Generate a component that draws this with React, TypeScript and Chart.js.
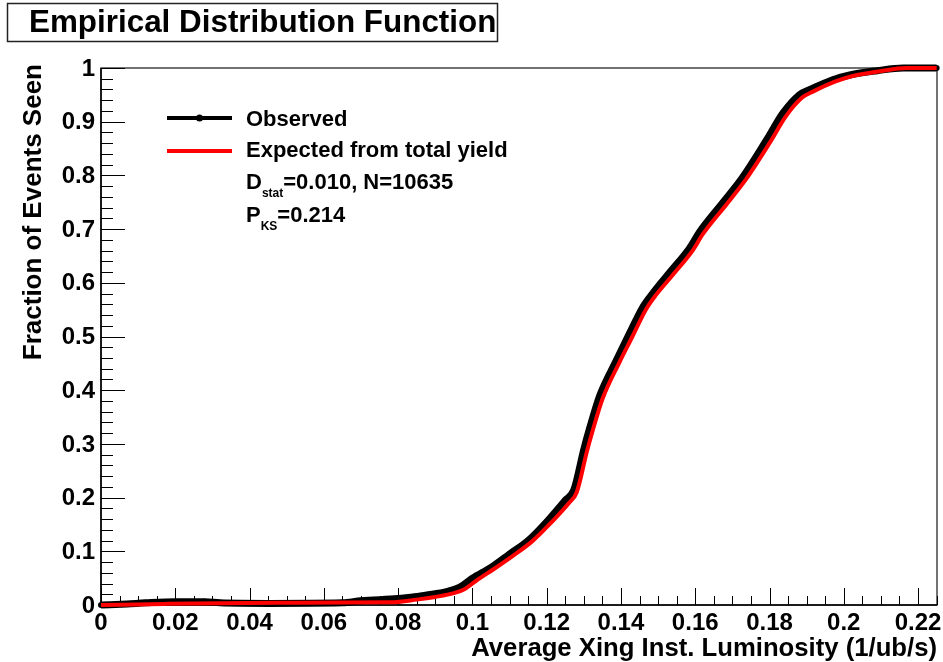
import { useEffect, useRef } from 'react';
import { Chart, registerables } from 'chart.js';

Chart.register(...registerables);

// ---------- data ----------
const obsX = [0, 0.007, 0.012, 0.02, 0.028, 0.032, 0.045, 0.065, 0.07, 0.08, 0.085, 0.09, 0.094, 0.097, 0.1, 0.105, 0.11, 0.115, 0.12, 0.125, 0.1273, 0.13, 0.1316, 0.1343, 0.1388, 0.1423, 0.1459, 0.1486, 0.1532, 0.1585, 0.1612, 0.1675, 0.1728, 0.1792, 0.1836, 0.188, 0.1909, 0.197, 0.2016, 0.209, 0.216, 0.225];
const obsY = [0, 0.002, 0.004, 0.006, 0.006, 0.004, 0.003, 0.004, 0.008, 0.012, 0.016, 0.021, 0.027, 0.035, 0.05, 0.07, 0.095, 0.12, 0.155, 0.195, 0.214, 0.29, 0.33, 0.39, 0.456, 0.506, 0.555, 0.581, 0.62, 0.665, 0.695, 0.75, 0.797, 0.866, 0.916, 0.95, 0.96, 0.978, 0.987, 0.995, 1.0, 1.0];

const expX = [0, 0.017, 0.047, 0.078, 0.085, 0.09, 0.095, 0.098, 0.101, 0.106, 0.111, 0.116, 0.121, 0.126, 0.1281, 0.1308, 0.1324, 0.1351, 0.1396, 0.1431, 0.1467, 0.1494, 0.154, 0.1593, 0.162, 0.1683, 0.1736, 0.18, 0.1844, 0.1888, 0.1917, 0.1978, 0.2024, 0.2098, 0.2168, 0.225];
const expY = [0, 0.002, 0.004, 0.005, 0.01, 0.015, 0.022, 0.03, 0.045, 0.068, 0.092, 0.118, 0.152, 0.19, 0.21, 0.285, 0.325, 0.385, 0.452, 0.5, 0.55, 0.577, 0.615, 0.66, 0.69, 0.745, 0.792, 0.86, 0.91, 0.945, 0.956, 0.975, 0.985, 0.994, 1.0, 1.0];

const xTickValues = [0, 0.02, 0.04, 0.06, 0.08, 0.1, 0.12, 0.14, 0.16, 0.18, 0.2, 0.22];
const xTickLabels = ['0', '0.02', '0.04', '0.06', '0.08', '0.1', '0.12', '0.14', '0.16', '0.18', '0.2', '0.22'];
const yTickValues = [0, 0.1, 0.2, 0.3, 0.4, 0.5, 0.6, 0.7, 0.8, 0.9, 1];
const yTickLabels = ['0', '0.1', '0.2', '0.3', '0.4', '0.5', '0.6', '0.7', '0.8', '0.9', '1'];

const titleText = 'Empirical Distribution Function';
const xTitle = 'Average Xing Inst. Luminosity (1/ub/s)';
const yTitle = 'Fraction of Events Seen';
const legendLabels = ['Observed', 'Expected from total yield'];
const statD = '=0.010, N=10635';
const statP = '=0.214';

const X_MAX = 0.2251;
const FONT = '"Liberation Sans", Arial, Helvetica, sans-serif';

const rootPlugin = {
  id: 'rootStyle',
  beforeDatasetsDraw(chart: any) {
    const { ctx, chartArea: a, scales } = chart;
    const x = scales.x;
    const y = scales.y;
    ctx.save();
    // frame
    ctx.strokeStyle = '#444';
    ctx.lineWidth = 1.5;
    ctx.strokeRect(a.left, a.top, a.right - a.left, a.bottom - a.top);
    // axes lines
    ctx.strokeStyle = '#000';
    ctx.lineWidth = 1.5;
    ctx.beginPath();
    ctx.moveTo(a.left, a.top);
    ctx.lineTo(a.left, a.bottom);
    ctx.lineTo(a.right, a.bottom);
    ctx.stroke();
    // ticks
    ctx.lineWidth = 1;
    ctx.beginPath();
    for (let i = 0; i <= 45; i++) {
      const v = i * 0.005;
      if (v > X_MAX) break;
      const px = Math.round(x.getPixelForValue(v)) + 0.5;
      const len = i % 4 === 0 ? 17 : 9;
      ctx.moveTo(px, a.bottom);
      ctx.lineTo(px, a.bottom - len);
    }
    for (let i = 0; i <= 50; i++) {
      const v = i * 0.02;
      const py = Math.round(y.getPixelForValue(v)) + 0.5;
      const len = i % 5 === 0 ? 24 : 12;
      ctx.moveTo(a.left, py);
      ctx.lineTo(a.left + len, py);
    }
    ctx.stroke();

    // tick labels
    ctx.fillStyle = '#000';
    ctx.font = `bold 24px ${FONT}`;
    ctx.textAlign = 'center';
    ctx.textBaseline = 'middle';
    xTickValues.forEach((v, i) => {
      ctx.fillText(xTickLabels[i], x.getPixelForValue(v), 623);
    });
    ctx.textAlign = 'right';
    yTickValues.forEach((v, i) => {
      ctx.fillText(yTickLabels[i], a.left - 6, y.getPixelForValue(v) + 1);
    });

    // axis titles
    ctx.font = `bold 25.7px ${FONT}`;
    ctx.textAlign = 'right';
    ctx.fillText(xTitle, a.right, 649);
    ctx.save();
    ctx.translate(34, a.top - 4);
    ctx.rotate(-Math.PI / 2);
    ctx.textAlign = 'right';
    ctx.font = `bold 26px ${FONT}`;
    ctx.fillText(yTitle, 0, 0);
    ctx.restore();
    ctx.restore();
  },
  afterDraw(chart: any) {
    const { ctx } = chart;
    ctx.save();
    // title box
    ctx.strokeStyle = '#222';
    ctx.lineWidth = 1.5;
    ctx.fillStyle = '#fff';
    ctx.fillRect(7, 3, 491, 39);
    ctx.strokeRect(7.5, 3.5, 490, 38);
    ctx.fillStyle = '#000';
    ctx.font = `bold 31.4px ${FONT}`;
    ctx.textAlign = 'left';
    ctx.textBaseline = 'middle';
    ctx.fillText(titleText, 29, 23);

    // legend
    ctx.lineCap = 'butt';
    ctx.strokeStyle = '#000';
    ctx.lineWidth = 4;
    ctx.beginPath();
    ctx.moveTo(167, 118);
    ctx.lineTo(232, 118);
    ctx.stroke();
    ctx.fillStyle = '#000';
    ctx.beginPath();
    ctx.arc(199.5, 118, 3.5, 0, Math.PI * 2);
    ctx.fill();
    ctx.strokeStyle = '#ff0000';
    ctx.beginPath();
    ctx.moveTo(167, 151);
    ctx.lineTo(232, 151);
    ctx.stroke();

    ctx.fillStyle = '#000';
    ctx.font = `bold 22px ${FONT}`;
    ctx.fillText(legendLabels[0], 246, 120);
    ctx.fillText(legendLabels[1], 246, 151);

    // stats lines
    ctx.fillText('D', 246, 183);
    let w = ctx.measureText('D').width;
    ctx.font = `bold 12px ${FONT}`;
    ctx.fillText('stat', 246 + w, 194);
    const w2 = ctx.measureText('stat').width;
    ctx.font = `bold 22px ${FONT}`;
    ctx.fillText(statD, 246 + w + w2, 183);

    ctx.fillText('P', 246, 216);
    w = ctx.measureText('P').width;
    ctx.font = `bold 12px ${FONT}`;
    ctx.fillText('KS', 246 + w, 227);
    const w3 = ctx.measureText('KS').width;
    ctx.font = `bold 22px ${FONT}`;
    ctx.fillText(statP, 246 + w + w3, 216);
    ctx.restore();
  },
};

export default function App() {
  const canvasRef = useRef<HTMLCanvasElement | null>(null);

  useEffect(() => {
    if (!canvasRef.current) return;
    const observed = obsX.map((v, i) => ({ x: v, y: obsY[i] }));
    const expected = expX.map((v, i) => ({ x: v, y: expY[i] }));
    const chart = new Chart(canvasRef.current, {
      type: 'line',
      data: {
        datasets: [
          {
            label: legendLabels[1],
            data: expected,
            borderColor: '#ff0000',
            backgroundColor: '#ff0000',
            borderWidth: 4,
            pointRadius: 0,
            cubicInterpolationMode: 'monotone',
            clip: 6,
          },
          {
            label: legendLabels[0],
            data: observed,
            borderColor: '#000',
            backgroundColor: '#000',
            borderWidth: 7,
            pointRadius: 3,
            pointBorderWidth: 0,
            cubicInterpolationMode: 'monotone',
            clip: 6,
          },
        ],
      },
      options: {
        animation: false,
        responsive: false,
        devicePixelRatio: 1,
        layout: { padding: { left: 101, right: 6, top: 68, bottom: 57 } },
        plugins: { legend: { display: false }, tooltip: { enabled: false }, title: { display: false } },
        scales: {
          x: { type: 'linear', min: 0, max: X_MAX, display: false },
          y: { type: 'linear', min: 0, max: 1, display: false },
        },
      },
      plugins: [rootPlugin],
    } as any);
    return () => chart.destroy();
  }, []);

  return (
    <div style={{ position: 'fixed', left: 0, top: 0, width: 943, height: 662, background: '#fff' }}>
      <canvas ref={canvasRef} width={943} height={662} style={{ width: 943, height: 662, display: 'block' }} />
    </div>
  );
}
